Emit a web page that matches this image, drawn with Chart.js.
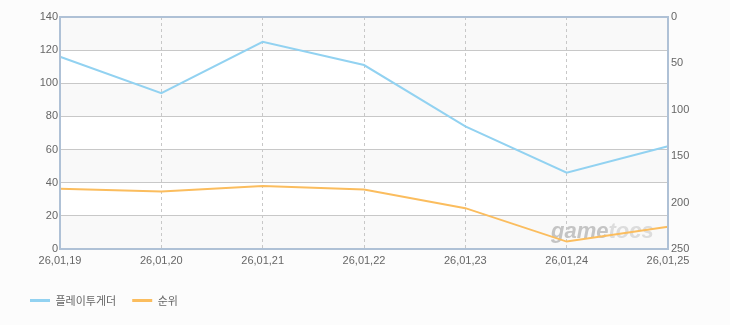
<!DOCTYPE html>
<html>
<head>
<meta charset="utf-8">
<script src="https://cdn.jsdelivr.net/npm/chart.js@4.4.1/dist/chart.umd.min.js"></script>
<style>
  html, body { margin: 0; padding: 0; background: #fcfcfc; }
  #wrap { width: 730px; height: 325px; position: relative; }
</style>
</head>
<body>
<div id="wrap"><canvas id="rankChart"></canvas></div>
<script>
const dates = ['26,01,19', '26,01,20', '26,01,21', '26,01,22', '26,01,23', '26,01,24', '26,01,25'];
const playValues = [116, 94, 125, 111, 74, 46, 62];
const rankValues = [185, 188, 182, 186, 206, 242, 226];

const labelFont = { family: "'Liberation Sans', Arial, sans-serif", size: 11 };

// alternating bands, plot border and the watermark
const plotDecor = {
    id: 'plotDecor',
    beforeDraw(chart) {
        const { ctx, chartArea: a, scales } = chart;
        const y = scales.y;
        ctx.save();
        const ticks = y.ticks.map(t => y.getPixelForValue(t.value));
        for (let i = 0; i < ticks.length - 1; i++) {
            ctx.fillStyle = i % 2 === 0 ? '#f9f9f9' : '#ffffff';
            ctx.fillRect(a.left, ticks[i + 1], a.right - a.left, ticks[i] - ticks[i + 1]);
        }
        ctx.restore();
    },
    beforeDatasetsDraw(chart) {
        const { ctx, chartArea: a } = chart;
        ctx.save();
        ctx.font = "italic bold 22px 'Liberation Sans', Arial, sans-serif";
        ctx.textBaseline = 'alphabetic';
        ctx.fillStyle = '#c4c4c4';
        const x0 = a.right - 117;
        ctx.fillText('game', x0, a.bottom - 11);
        const w = ctx.measureText('game').width;
        ctx.fillStyle = '#dcdcdc';
        ctx.fillText('tocs', x0 + w, a.bottom - 11);
        ctx.restore();
    },
    afterDatasetsDraw(chart) {
        const { ctx, chartArea: a } = chart;
        ctx.save();
        ctx.strokeStyle = '#afc1d6';
        ctx.lineWidth = 2;
        ctx.strokeRect(a.left, a.top, a.right - a.left, a.bottom - a.top);
        ctx.restore();
    }
};

new Chart(document.getElementById('rankChart'), {
    type: 'line',
    data: {
        labels: dates,
        datasets: [{
            label: '플레이투게더',
            data: playValues,
            yAxisID: 'y',
            borderColor: '#92d2f1',
            backgroundColor: '#92d2f1',
            borderWidth: 2,
            pointRadius: 0,
            tension: 0
        }, {
            label: '순위',
            data: rankValues,
            yAxisID: 'y1',
            borderColor: '#fbbd5e',
            backgroundColor: '#fbbd5e',
            borderWidth: 2,
            pointRadius: 0,
            tension: 0
        }]
    },
    options: {
        responsive: true,
        maintainAspectRatio: false,
        animation: false,
        layout: { padding: { left: 14, right: 0, top: 17, bottom: 9 } },
        plugins: {
            tooltip: { enabled: false },
            legend: {
                position: 'bottom',
                align: 'start',
                labels: {
                    boxWidth: 20,
                    boxHeight: 3,
                    padding: 16,
                    color: '#666',
                    font: { family: "'Noto Sans CJK KR', sans-serif", size: 11 },
                    generateLabels(chart) {
                        return chart.data.datasets.map((ds, i) => ({
                            text: ds.label,
                            fillStyle: ds.borderColor,
                            strokeStyle: ds.borderColor,
                            lineWidth: 0,
                            fontColor: '#666',
                            datasetIndex: i
                        }));
                    }
                }
            }
        },
        scales: {
            x: {
                offset: false,
                grid: { color: '#c8c8c8', drawTicks: false },
                border: { display: false, dash: [3, 3] },
                ticks: { color: '#666', font: labelFont, padding: 5, maxRotation: 0, autoSkip: false },
                afterFit(scale) { scale.height = 30; }
            },
            y: {
                position: 'left',
                min: 0,
                max: 140,
                ticks: { stepSize: 20, color: '#666', font: labelFont, padding: 2 },
                grid: { color: '#c8c8c8', drawTicks: false },
                border: { display: false },
                afterFit(scale) { scale.width = 46; }
            },
            y1: {
                position: 'right',
                reverse: true,
                min: 0,
                max: 250,
                ticks: { stepSize: 50, color: '#666', font: labelFont, padding: 3 },
                grid: { display: false, drawTicks: false },
                border: { display: false },
                afterFit(scale) { scale.width = 62; }
            }
        }
    },
    plugins: [plotDecor]
});
</script>
</body>
</html>
